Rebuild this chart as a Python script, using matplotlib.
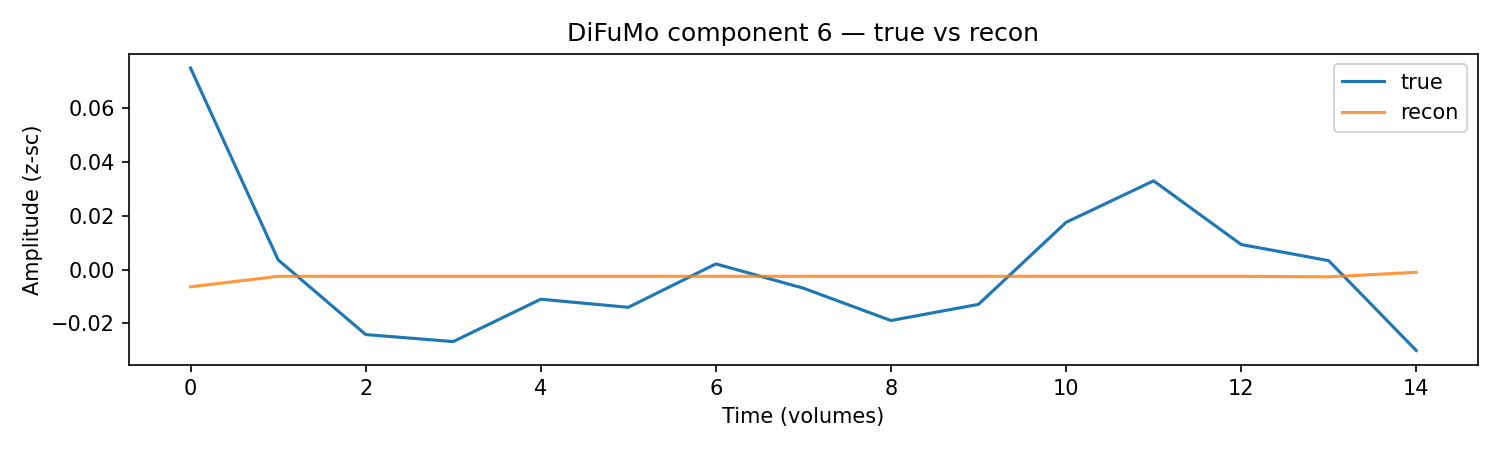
import matplotlib
matplotlib.use('Agg')
import matplotlib.pyplot as plt
import numpy as np

# 시간축 (volumes)
time_points = np.arange(15)

# true / recon 값 (그림에서 읽은 근사치)
true_vals = [0.0747, 0.0036, -0.0241, -0.0267, -0.0110, -0.0140, 0.0021,
             -0.0069, -0.0189, -0.0129, 0.0175, 0.0329, 0.0093, 0.0033, -0.0300]
recon_vals = [-0.0064, -0.0025, -0.0025, -0.0025, -0.0025, -0.0025, -0.0025,
              -0.0025, -0.0025, -0.0025, -0.0025, -0.0025, -0.0025, -0.0027, -0.0010]

fig, ax = plt.subplots(figsize=(10, 3), dpi=150)
ax.plot(time_points, true_vals, label='true')
ax.plot(time_points, recon_vals, label='recon', alpha=0.8)
ax.set_title('DiFuMo component 6 \u2014 true vs recon')
ax.set_xlabel('Time (volumes)')
ax.set_ylabel('Amplitude (z-sc)')
ax.legend(loc='upper right')

fig.tight_layout()
fig.savefig('out.png', dpi=150)
plt.close(fig)
